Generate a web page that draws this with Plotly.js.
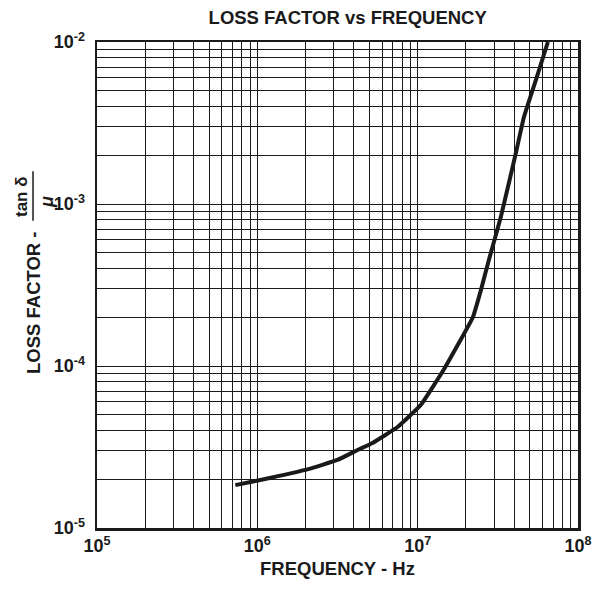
<!DOCTYPE html>
<html><head><meta charset="utf-8">
<script src="https://cdn.plot.ly/plotly-3.0.1.min.js"></script>
<style>html,body{margin:0;padding:0;background:#fff}#chart{width:610px;height:593px}</style>
</head><body><div id="chart"></div>
<script>
var frequencyHz = [7.29e5, 1.045e6, 2.08e6, 3.16e6, 4.22e6, 5.23e6, 7.5e6, 1.045e7, 1.45e7, 2.21e7, 2.48e7, 2.78e7, 3.3e7, 4.1e7, 4.6e7, 5.46e7, 6.49e7];
var lossFactor  = [1.84e-5, 1.98e-5, 2.31e-5, 2.63e-5, 3.03e-5, 3.35e-5, 4.2e-5, 5.74e-5, 9.44e-5, 2.0e-4, 2.94e-4, 4.51e-4, 8.3e-4, 2.07e-3, 3.44e-3, 5.82e-3, 1.0e-2];
var xTickVals = [1e5, 1e6, 1e7, 1e8];
var xTickText = ['10<sup>5</sup>', '10<sup>6</sup>', '10<sup>7</sup>', '10<sup>8</sup>'];
var yTickVals = [1e-5, 1e-4, 1e-3, 1e-2];
var yTickText = ['10<sup>-5</sup>', '10<sup>-4</sup>', '10<sup>-3</sup>', '10<sup>-2</sup>'];

var F = 'Liberation Sans, Arial, Helvetica, sans-serif';
var C = '#1a1a1a';
var trace = {
  x: frequencyHz, y: lossFactor, type: 'scatter', mode: 'lines',
  line: {color: C, width: 4, shape: 'spline', smoothing: 0.3},
  hoverinfo: 'skip'
};
var axisCommon = {
  type: 'log', showgrid: true, gridcolor: C, gridwidth: 1,
  showline: true, linecolor: C, linewidth: 2.5, mirror: true,
  ticks: '', zeroline: false,
  tickfont: {family: F, size: 18, color: C, weight: 'bold'},
  minor: {dtick: 'D1', showgrid: true, gridcolor: C, gridwidth: 1, ticks: ''}
};
var ann = function (text, xs, ys, size) {
  return {text: text, xref: 'paper', yref: 'paper', x: 0, y: 0.5, xshift: xs, yshift: ys,
          xanchor: 'center', yanchor: 'middle', textangle: -90, showarrow: false,
          font: {family: F, size: size, color: C, weight: 'bold'}};
};
var layout = {
  width: 610, height: 593,
  margin: {l: 97, r: 32, t: 42, b: 65},
  paper_bgcolor: '#fff', plot_bgcolor: '#fff',
  showlegend: false,
  title: {text: 'LOSS FACTOR vs FREQUENCY', font: {family: F, size: 18.5, color: C, weight: 'bold'},
          x: 0.57, xref: 'container', xanchor: 'center', y: 0.971, yref: 'container', yanchor: 'middle'},
  xaxis: Object.assign({}, axisCommon, {
    range: [5, 8], tickvals: xTickVals, ticktext: xTickText, ticklabelstandoff: 0,
    title: {text: 'FREQUENCY - Hz', font: {family: F, size: 18.5, color: C, weight: 'bold'}, standoff: 7}
  }),
  yaxis: Object.assign({}, axisCommon, {
    range: [-5, -2], tickvals: yTickVals, ticktext: yTickText, ticklabelstandoff: 6
  }),
  annotations: [
    ann('LOSS FACTOR -', -64, -18, 18.5),
    ann('tan δ', -76, 88, 17),
    ann('<i>μ</i>', -50, 83, 18)
  ],
  shapes: [
    {type: 'line', xref: 'paper', yref: 'paper', x0: -0.133, x1: -0.133, y0: 0.632, y1: 0.734,
     line: {color: C, width: 1.5}}
  ]
};
Plotly.newPlot('chart', [trace], layout, {displayModeBar: false, staticPlot: true});
</script></body></html>
